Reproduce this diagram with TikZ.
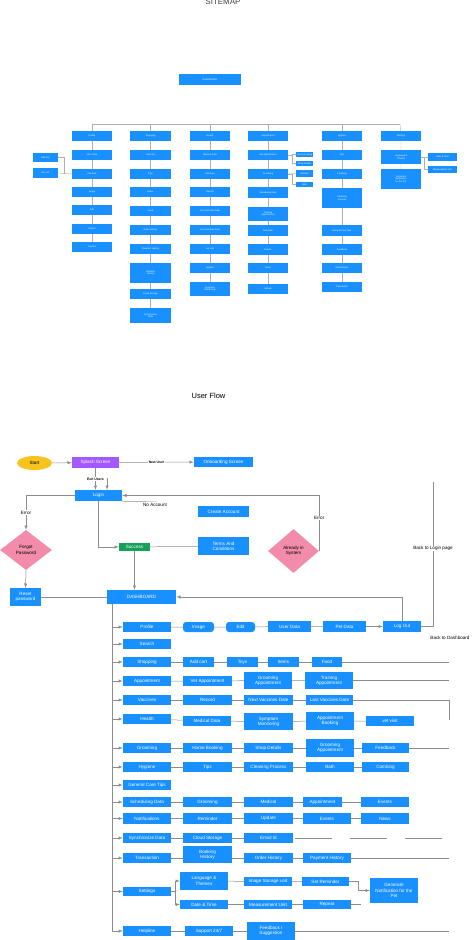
\documentclass[tikz,border=0pt]{standalone}
\usepackage{fontspec}
\setmainfont{Liberation Sans}
\usepackage{tikz}
\usetikzlibrary{shapes.geometric}

\definecolor{uiblue}{RGB}{24,144,255}
\definecolor{uipurple}{RGB}{163,89,255}
\definecolor{uigreen}{RGB}{22,160,90}
\definecolor{uiyellow}{RGB}{247,196,30}
\definecolor{uipink}{RGB}{242,140,170}
\definecolor{linegray}{RGB}{140,140,140}

% box from corner (x1,y1) to (x2,y2), in pixels
\newcommand{\bx}[7][box]{\node[#1,minimum width={(#5)-(#3)},minimum height={(#6)-(#4)}] (#2) at ({((#3)+(#5))/2},{((#4)+(#6))/2}) {#7};}

\tikzset{
  box/.style={fill=uiblue,text=white,inner sep=0pt,align=center,font=\fontsize{4.6}{5.2}\selectfont},
  sbox/.style={box,font=\fontsize{2.3}{2.6}\selectfont},
  rbox/.style={box,rounded corners=3pt},
  pbox/.style={box,fill=uipurple},
  gbox/.style={box,fill=uigreen},
  decision/.style={diamond,fill=uipink,text=black,inner sep=0pt,aspect=1,align=center,font=\fontsize{4.6}{5.4}\selectfont},
  lnk/.style={draw=linegray,line width=0.5pt},
  slnk/.style={draw=linegray!70,line width=0.4pt},
  arr/.style={lnk,-latex},
  tag/.style={fill=white,inner sep=0.6pt,font=\fontsize{4.6}{5}\selectfont},
  smalltag/.style={tag,font=\fontsize{3.4}{4}\selectfont\bfseries},
}

\begin{document}
\begin{tikzpicture}[x=1pt,y=-1pt]
\useasboundingbox (0,0) rectangle (474,940);

%% SITEMAP
\node[font=\fontsize{8}{9}\selectfont,text=black!75] (smtitle) at (223,2) {SITEMAP};
\bx[sbox]{sdash}{179}{74}{241}{85}{DASHBOARD}
\coordinate (t1) at (92,124);
\coordinate (t2) at (150.5,124);
\coordinate (t3) at (210,124);
\coordinate (t4) at (268,124);
\coordinate (t5) at (342,124);
\coordinate (t6) at (400,124);
\draw[slnk] (t1) -- (t6);

% column 1
\bx[sbox]{c1a}{72}{131}{112}{141}{Profile}
\bx[sbox]{c1b}{72}{150}{112}{160}{User Data}
\bx[sbox]{c1c}{72}{169}{112}{179}{Pet Data}
\bx[sbox]{c1d}{72}{187}{112}{197}{Image}
\bx[sbox]{c1e}{72}{205}{112}{215}{Edit}
\bx[sbox]{c1f}{72}{224}{112}{234}{Search}
\bx[sbox]{c1g}{72}{242}{112}{252}{Log Out}
\bx[sbox]{l1}{33}{153}{58}{162}{Add Pet}
\bx[sbox]{l2}{33}{168}{58}{178}{Pet List}
\draw[slnk] (t1) -- (c1a) -- (c1b) -- (c1c) -- (c1d) -- (c1e) -- (c1f) -- (c1g);
\draw[slnk] (l2.east) -- (c1c.west);
\draw[slnk] (l1.east) -- ++(6,0) -- ++(0,16);

% column 2
\bx[sbox]{c2a}{130}{131}{171}{141}{Shopping}
\bx[sbox]{c2b}{130}{150}{171}{160}{Add cart}
\bx[sbox]{c2c}{130}{169}{171}{179}{Toys}
\bx[sbox]{c2d}{130}{187}{171}{197}{Items}
\bx[sbox]{c2e}{130}{206}{171}{216}{Food}
\bx[sbox]{c2f}{130}{225}{171}{235}{Order History}
\bx[sbox]{c2g}{130}{244}{171}{254}{Payment History}
\bx[sbox]{c2h}{130}{263}{171}{283}{Booking\\History}
\bx[sbox]{c2i}{130}{289}{171}{299}{Cloud Storage}
\bx[sbox]{c2j}{130}{308}{171}{323}{Synchronize\\Data}
\draw[slnk] (t2) -- (c2a) -- (c2b) -- (c2c) -- (c2d) -- (c2e) -- (c2f) -- (c2g) -- (c2h) -- (c2i) -- (c2j);

% column 3
\bx[sbox]{c3a}{190}{131}{230}{141}{Health}
\bx[sbox]{c3b}{190}{150}{230}{160}{Medical Data}
\bx[sbox]{c3c}{190}{169}{230}{179}{Vaccines}
\bx[sbox]{c3d}{190}{187}{230}{197}{Record}
\bx[sbox]{c3e}{190}{206}{230}{216}{Next Vaccines Date}
\bx[sbox]{c3f}{190}{225}{230}{235}{Last Vaccines Date}
\bx[sbox]{c3g}{190}{244}{230}{254}{vet visit}
\bx[sbox]{c3h}{190}{263}{230}{273}{Helpline}
\bx[sbox]{c3i}{190}{282}{230}{296}{Symptom\\Monitoring}
\draw[slnk] (t3) -- (c3a) -- (c3b) -- (c3c) -- (c3d) -- (c3e) -- (c3f) -- (c3g) -- (c3h) -- (c3i);

% column 4
\bx[sbox]{c4a}{248}{131}{288}{141}{Appointment}
\bx[sbox]{c4b}{248}{150}{288}{160}{Vet Appointment}
\bx[sbox]{c4c}{248}{169}{288}{179}{Grooming}
\bx[sbox]{c4d}{248}{187}{288}{198}{Scheduling Data}
\bx[sbox]{c4e}{248}{207}{288}{221}{Training\\Appointment}
\bx[sbox]{c4f}{248}{225}{288}{236}{Reminder}
\bx[sbox]{c4g}{248}{244}{288}{255}{Events}
\bx[sbox]{c4h}{248}{263}{288}{273}{News}
\bx[sbox]{c4i}{248}{284}{288}{294}{Update}
\bx[sbox]{s1}{296}{152}{313}{157}{Home Booking}
\bx[sbox]{s2}{296}{161}{313}{166}{Shop Details}
\bx[sbox]{s3}{296}{170}{313}{177}{Medical}
\bx[sbox]{s4}{296}{182}{313}{187}{Bath}
\draw[slnk] (t4) -- (c4a) -- (c4b) -- (c4c) -- (c4d) -- (c4e) -- (c4f) -- (c4g) -- (c4h) -- (c4i);
\draw[slnk] (c4b.east) -- ++(4,0) |- (s1.west);
\draw[slnk] (c4b.east) -- ++(4,0) |- (s2.west);
\draw[slnk] (c4c.east) -- (s3.west);
\draw[slnk] (c4c.east) -- ++(4,0) |- (s4.west);

% column 5
\bx[sbox]{c5a}{322}{131}{362}{141}{Hygiene}
\bx[sbox]{c5b}{322}{150}{362}{160}{Tips}
\bx[sbox]{c5c}{322}{169}{362}{179}{Combing}
\bx[sbox]{c5d}{322}{188}{362}{208}{Cleaning\\Process}
\bx[sbox]{c5e}{322}{225}{362}{236}{General Care Tips}
\bx[sbox]{c5f}{322}{244}{362}{255}{Feedback}
\bx[sbox]{c5g}{322}{263}{362}{273}{Notifications}
\bx[sbox]{c5h}{322}{282}{362}{292}{Transaction}
\draw[slnk] (t5) -- (c5a) -- (c5b) -- (c5c) -- (c5d) -- (c5e) -- (c5f) -- (c5g) -- (c5h);

% column 6
\bx[sbox]{c6a}{381}{131}{421}{141}{Settings}
\bx[sbox]{c6b}{381}{150}{421}{164}{Language \&\\Themes}
\bx[sbox]{c6c}{381}{169}{421}{189}{Generate\\Notification\\for the Pet}
\bx[sbox]{d1}{428}{153}{457}{161}{Date \& Time}
\bx[sbox]{d2}{428}{166}{457}{173}{Measurement Unit}
\draw[slnk] (t6) -- (c6a) -- (c6b) -- (c6c);
\draw[slnk] (c6b.east) -- ++(3,0) |- (d1.west);
\draw[slnk] (c6b.east) -- ++(3,0) |- (d2.west);

%% USER FLOW
\node[font=\fontsize{7.5}{8}\selectfont] (uftitle) at (208.5,396) {User Flow};

\node[ellipse,fill=uiyellow,minimum width=35pt,minimum height=14pt,inner sep=0pt,font=\fontsize{4.6}{5}\selectfont] (start) at (34.5,463) {Start};
\bx[pbox]{splash}{72}{457}{119}{468}{Splash Screen}
\bx{onboard}{194}{457}{253}{467}{Onboarding Screen}
\bx{login}{75}{490}{122}{501}{Login}
\bx{create}{198}{506}{249}{517}{Create Account}
\bx[gbox]{success}{119}{543}{150}{551}{Success}
\bx{terms}{198}{537}{249}{555}{Terms And\\Conditions}
\node[decision,minimum width=52pt,minimum height=40pt] (forgot) at (26,550) {Forgot\\Password};
\node[decision,minimum width=51pt,minimum height=44pt] (already) at (293.5,551) {Already in\\System};
\bx{reset}{10}{588}{41}{606}{Reset\\password}
\bx{dash}{107}{590}{176}{604}{DASHBOARD}

\coordinate (eu) at (107,478);
\coordinate (na) at (157,502);
\coordinate (bl) at (433,482);

\draw[arr] (start) -- (splash);
\draw[arr] (splash) -- node[smalltag]{New User} (onboard);
\draw[arr] (splash.south) -- node[smalltag]{Exit Users} (splash.south |- login.north);
\draw[arr] (eu) -- (eu |- login.north);
\draw[arr] (login.west) -| node[tag,pos=0.75]{Error} (forgot.north);
\draw[lnk] (login.south east) -- (na) node[tag,below,xshift=-2pt]{No Account};
\draw[arr] (already.east) |- node[tag,pos=0.3]{Error} (login.east);
\draw[arr] (login.south) |- (success.west);
\draw[lnk] (terms) -- (success);
\draw[arr] (success.south) -- (success.south |- dash.north);
\draw[arr] (forgot.south) -- (reset.north);
\draw[lnk] (reset.east) -- (dash.west);

% rows
\bx{profile}{123}{622}{171}{632}{Profile}
\bx[rbox]{image}{183}{622}{214}{632}{Image}
\bx[rbox]{edit}{226}{622}{255}{632}{Edit}
\bx{userdata}{268}{621}{311}{632}{User Data}
\bx{petdata}{323}{621}{366}{632}{Pet Data}
\bx{logout}{383}{621}{421}{632}{Log Out}
\bx{search}{123}{639}{171}{649}{Search}
\bx{shopping}{123}{657}{171}{667}{Shopping}
\bx{addcart}{183}{657}{214}{667}{Add cart}
\bx{toys}{227}{657}{258}{667}{Toys}
\bx{items}{268}{657}{299}{667}{Items}
\bx{food}{312}{657}{342}{667}{Food}
\bx{appoint}{123}{676}{171}{686}{Appointment}
\bx{vetapp}{183}{676}{232}{686}{Vet Appointment}
\bx{groomapp}{244}{672}{292}{689}{Grooming\\Appointment}
\bx{trainapp}{305}{672}{353}{689}{Training\\Appointment}
\bx{vaccines}{123}{695}{171}{705}{Vaccines}
\bx{record}{183}{695}{232}{705}{Record}
\bx{nextvac}{244}{695}{293}{705}{Next Vaccines Date}
\bx{lastvac}{306}{695}{353}{705}{Last Vaccines Date}
\bx{health}{123}{714}{171}{724}{Health}
\bx{meddata}{183}{716}{231}{726}{Medical Data}
\bx{symptom}{244}{713}{293}{730}{Symptom\\Monitoring}
\bx{apbook}{306}{712}{354}{730}{Appointment\\Booking}
\bx{vetvisit}{366}{716}{414}{726}{vet visit}
\bx{grooming}{123}{743}{171}{753}{Grooming}
\bx{homebook}{183}{743}{232}{753}{Home Booking}
\bx{shopdet}{244}{743}{293}{753}{Shop Details}
\bx{groomapp2}{306}{739}{354}{757}{Grooming\\Appointment}
\bx{feedback}{362}{743}{409}{753}{Feedback}
\bx{hygiene}{123}{762}{171}{772}{Hygiene}
\bx{tips}{183}{762}{232}{772}{Tips}
\bx{cleaning}{244}{762}{293}{772}{Cleaning Process}
\bx{bath}{306}{762}{354}{772}{Bath}
\bx{combing}{362}{762}{409}{772}{Combing}
\bx{general}{123}{780}{171}{790}{General Care Tips}
\bx{sched}{123}{797}{171}{807}{Scheduling Data}
\bx{sgroom}{183}{797}{232}{807}{Grooming}
\bx{smedical}{244}{797}{293}{807}{Medical}
\bx{sappoint}{303}{797}{342}{807}{Appointment}
\bx{sevents}{361}{797}{409}{807}{Events}
\bx{notif}{123}{813}{171}{824}{Notifications}
\bx{reminder}{183}{813}{232}{824}{Reminder}
\bx{update}{244}{813}{293}{824}{Update}
\bx{nevents}{303}{813}{351}{824}{Events}
\bx{news}{361}{813}{409}{824}{News}
\bx{sync}{123}{833}{171}{843}{Synchronize Data}
\bx{cloud}{183}{833}{232}{843}{Cloud Storage}
\bx{email}{244}{833}{293}{843}{Email Id}
\bx{trans}{123}{853}{171}{863}{Transaction}
\bx{bookhist}{183}{846}{232}{863}{Booking\\History}
\bx{orderhist}{244}{853}{293}{863}{Order History}
\bx{payhist}{303}{853}{351}{863}{Payment History}
\bx{settings}{123}{887}{171}{896}{Settings}
\bx{lang}{180}{872}{228}{890}{Language \&\\Themes}
\bx{imgstore}{244}{877}{292}{886}{Image Storage unit}
\bx{setrem}{302}{877}{349}{886}{Set Reminder}
\bx{datetime}{180}{900}{228}{909}{Date \& Time}
\bx{measure}{244}{900}{292}{909}{Measurement Unit}
\bx{repeat}{303}{900}{351}{909}{Repeat}
\bx{generate}{370}{878}{418}{903}{Generate\\Notification for the\\Pet}
\bx{helpline}{123}{926}{171}{936}{Helpline}
\bx{support}{185}{926}{233}{936}{Support 24/7}
\bx{fbsugg}{247}{922}{295}{940}{Feedback /\\Suggestion}

% spine from the dashboard
\coordinate (sp0) at (112,604);
\coordinate (sp1) at (112,931);
\coordinate (re) at (449,700);
\coordinate (rv) at (449,720);
\coordinate (sb) at (175,891.5);
\coordinate (rp) at (361,904.5);
\draw[lnk] (sp0) -- (sp1);
\foreach \r in {profile,search,shopping,appoint,vaccines,health,grooming,hygiene,general,sched,notif,sync,trans,settings,helpline}
  \draw[arr] (\r.west -| sp0) -- (\r.west);

\draw[lnk] (profile) -- (image) -- (edit) -- (userdata) -- (petdata);
\draw[arr] (petdata) -- (logout);
\draw[lnk] (shopping) -- (addcart) -- (toys) -- (items) -- (food);
\draw[lnk] (appoint) -- (vetapp) -- (groomapp) -- (trainapp);
\draw[lnk] (vaccines) -- (record) -- (nextvac) -- (lastvac);
\draw[lnk] (health) -- (meddata) -- (symptom) -- (apbook) -- (vetvisit);
\draw[lnk] (grooming) -- (homebook) -- (shopdet) -- (groomapp2) -- (feedback);
\draw[lnk] (hygiene) -- (tips) -- (cleaning) -- (bath) -- (combing);
\draw[lnk] (sched) -- (sgroom) -- (smedical) -- (sappoint) -- (sevents);
\draw[lnk] (notif) -- (reminder) -- (update) -- (nevents) -- (news);
\draw[lnk] (sync) -- (cloud) -- (email);
\draw[lnk] (trans) -- (bookhist.west |- trans) (bookhist.east |- orderhist) -- (orderhist) -- (payhist);
\draw[lnk] (helpline) -- (support) -- (fbsugg.west |- support);

% lines running out to the right
\draw[lnk] (food.east) -- (food.east -| re);
\draw[lnk] (trainapp.east) -- (trainapp.east -| re);
\draw[lnk] (lastvac.east) -- (lastvac.east -| re) -- (rv);
\draw[lnk] (feedback.east) -- (feedback.east -| re);
\draw[lnk] (payhist.east) -- (payhist.east -| re);
\draw[lnk] (fbsugg.east |- support) -- (support -| re);
\draw[lnk,dash pattern=on 37pt off 18pt] (email.east) ++(2,0) -- ++(148,0);

% settings branch
\draw[lnk] (settings.east) -- (sb);
\draw[arr] (sb) |- (lang.west);
\draw[arr] (sb) |- (datetime.west);
\draw[lnk] (lang) -- (imgstore) -- (setrem);
\draw[lnk] (datetime) -- (measure) -- (repeat);
\draw[arr] (setrem.east) -- ++(9,0) |- (generate.west);
\draw[lnk] (repeat.east) -- (rp);

% log out
\draw[arr] (logout.north) |- (dash.east);
\draw[lnk] (logout.east) -| node[tag,pos=0.77]{Back to Login page} (bl);
\node[tag] (backdash) at (450,638) {Back to Dashboard};
\end{tikzpicture}
\end{document}
